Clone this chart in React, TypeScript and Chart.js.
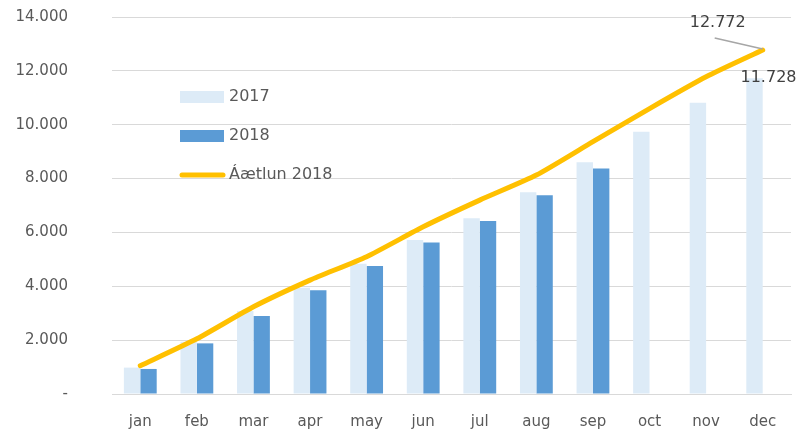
import React, { useEffect, useRef } from "react";
import { Chart, registerables } from "chart.js";

Chart.register(...registerables);

const months = ["jan", "feb", "mar", "apr", "may", "jun", "jul", "aug", "sep", "oct", "nov", "dec"];
const values2017 = [980, 1940, 3080, 3950, 4840, 5720, 6530, 7490, 8610, 9740, 10820, 11728];
const values2018: (number | null)[] = [930, 1880, 2900, 3850, 4750, 5630, 6420, 7380, 8370, null, null, null];
const plan2018 = [1050, 2050, 3240, 4230, 5100, 6210, 7200, 8130, 9370, 10600, 11780, 12772];

const C2017 = "#DDEBF7";
const C2018 = "#5B9BD5";
const CPLAN = "#FFC000";
const FONT = "'DejaVu Sans', sans-serif";

function fmt(v: number): string {
  if (v === 0) return "-";
  return Math.round(v).toString().replace(/\B(?=(\d{3})+(?!\d))/g, ".");
}

const overlayPlugin = {
  id: "overlay",
  afterDatasetsDraw(chart: any) {
    const ctx = chart.ctx;
    ctx.save();
    const items = chart.data.datasets;
    const lx = 180;
    const ys = [97, 136, 175];
    [0, 1, 2].forEach((i, k) => {
      const ds = items[i];
      const y = ys[k];
      if (ds.type === "line") {
        ctx.strokeStyle = ds.borderColor;
        ctx.lineWidth = 5;
        ctx.lineCap = "round";
        ctx.beginPath();
        ctx.moveTo(lx + 2, y);
        ctx.lineTo(lx + 43, y);
        ctx.stroke();
      } else {
        ctx.fillStyle = ds.backgroundColor;
        ctx.fillRect(lx, y - 6, 44, 12);
      }
      ctx.fillStyle = "#595959";
      ctx.font = "16px " + FONT;
      ctx.textAlign = "left";
      ctx.textBaseline = "middle";
      ctx.fillText(ds.label, lx + 49, y);
    });

    const lineMeta = chart.getDatasetMeta(2);
    const lastPt = lineMeta.data[lineMeta.data.length - 1];
    const barMeta = chart.getDatasetMeta(0);
    const lastBar = barMeta.data[barMeta.data.length - 1];
    ctx.strokeStyle = "#A6A6A6";
    ctx.lineWidth = 1.5;
    ctx.lineCap = "butt";
    ctx.beginPath();
    ctx.moveTo(lastPt.x - 48, lastPt.y - 12);
    ctx.lineTo(lastPt.x, lastPt.y - 1);
    ctx.stroke();
    ctx.fillStyle = "#404040";
    ctx.font = "16px " + FONT;
    ctx.textAlign = "center";
    ctx.textBaseline = "middle";
    ctx.fillText(fmt(plan2018[plan2018.length - 1]), lastPt.x - 45, lastPt.y - 27);
    ctx.fillText(fmt(values2017[values2017.length - 1]), lastBar.x + 14, lastBar.y);
    ctx.restore();
  },
};

export default function App() {
  const ref = useRef<HTMLCanvasElement | null>(null);
  useEffect(() => {
    if (!ref.current) return;
    const chart = new Chart(ref.current, {
      type: "bar",
      data: {
        labels: months,
        datasets: [
          {
            type: "bar",
            label: "2017",
            data: values2017,
            backgroundColor: C2017,
            categoryPercentage: 0.58,
            barPercentage: 1.0,
            order: 2,
          },
          {
            type: "bar",
            label: "2018",
            data: values2018,
            backgroundColor: C2018,
            categoryPercentage: 0.58,
            barPercentage: 1.0,
            order: 2,
          },
          {
            type: "line",
            label: "Áætlun 2018",
            data: plan2018,
            borderColor: CPLAN,
            backgroundColor: CPLAN,
            borderWidth: 5,
            pointRadius: 0,
            tension: 0.2,
            borderCapStyle: "round",
            borderJoinStyle: "round",
            order: 1,
          } as any,
        ],
      },
      options: {
        responsive: false,
        animation: false,
        layout: { padding: { top: 17, right: 14, bottom: 0, left: 0 } },
        plugins: {
          legend: { display: false },
          tooltip: { enabled: false },
        },
        scales: {
          x: {
            grid: {
              display: true,
              drawOnChartArea: false,
              drawTicks: true,
              tickLength: 19,
              tickColor: "rgba(0,0,0,0)",
            },
            border: { display: true, color: "#D9D9D9", width: 1 },
            ticks: {
              color: "#595959",
              font: { family: FONT, size: 15 },
              padding: 0,
            },
            afterFit: (s: any) => {
              s.height = 41;
            },
          },
          y: {
            min: 0,
            max: 14000,
            grid: {
              color: "#D9D9D9",
              lineWidth: 1,
              drawTicks: true,
              tickLength: 44,
              tickColor: "rgba(0,0,0,0)",
            },
            border: { display: false },
            ticks: {
              stepSize: 2000,
              color: "#595959",
              font: { family: FONT, size: 15 },
              padding: 0,
              callback: (v: any) => fmt(Number(v)),
            },
            afterFit: (s: any) => {
              s.width = 112;
            },
          },
        },
      },
      plugins: [overlayPlugin],
    });
    return () => chart.destroy();
  }, []);
  return (
    <div style={{ position: "absolute", left: 0, top: 0, width: 805, height: 435, background: "#fff" }}>
      <canvas ref={ref} width={805} height={435} style={{ display: "block" }} />
    </div>
  );
}
